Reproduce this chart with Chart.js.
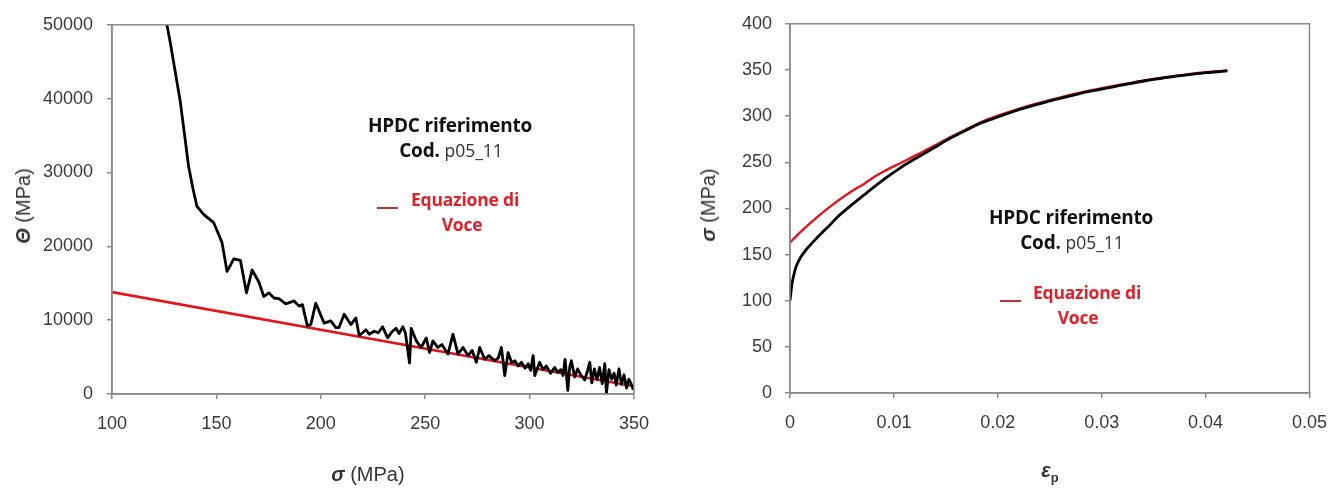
<!DOCTYPE html>
<html>
<head>
<meta charset="utf-8">
<script src="https://cdn.jsdelivr.net/npm/chart.js@4/dist/chart.umd.min.js"></script>
<style>
  html, body { margin: 0; padding: 0; background: #fff; }
  body { width: 1341px; height: 488px; position: relative; overflow: hidden; }
  canvas { position: absolute; top: 0; }
  #c1 { left: 0; }
  #c2 { left: 670px; }
  .t { position: absolute; white-space: nowrap; line-height: 1; transform: translate(-50%, -50%); }
  .ann { font-family: "Open Sans", "Lato", sans-serif; font-weight: 700; font-size: 19px; color: #111; letter-spacing: -0.2px; }
  .ann .n { font-weight: 400; font-size: 17.5px; color: #333; letter-spacing: 0; }
  .red { color: #e2202a; font-family: "Open Sans", "Lato", sans-serif; font-weight: 700; font-size: 17.5px; letter-spacing: -0.2px; }
  .dash { position: absolute; width: 21px; height: 0; border-top: 2px solid #c0303a; }
  .ax { font-family: "Liberation Sans", Arial, sans-serif; font-size: 20px; color: #333; }
  .ax b { font-style: italic; font-weight: 700; }
  .rot { transform: translate(-50%, -50%) rotate(-90deg); }
</style>
</head>
<body>
<canvas id="c1" width="670" height="488"></canvas>
<canvas id="c2" width="671" height="488"></canvas>

<div class="t ax rot" style="left:23px; top:206px;"><b>&Theta;</b> (MPa)</div>
<div class="t ax" style="left:368px; top:474px;"><b>&sigma;</b> (MPa)</div>
<div class="t ax rot" style="left:708px; top:205px;"><b>&sigma;</b> (MPa)</div>
<div class="t ax" style="left:1050px; top:472px;"><b>&epsilon;<sub style="font-size:13px; font-style:normal;">p</sub></b></div>

<div class="t ann" style="left:450px; top:125px;">HPDC riferimento</div>
<div class="t ann" style="left:451px; top:150px;">Cod. <span class="n">p05_11</span></div>
<div class="dash" style="left:377px; top:207px;"></div>
<div class="t red" style="left:465px; top:200px;">Equazione di</div>
<div class="t red" style="left:462px; top:225px;">Voce</div>

<div class="t ann" style="left:1071px; top:217px;">HPDC riferimento</div>
<div class="t ann" style="left:1072px; top:242px;">Cod. <span class="n">p05_11</span></div>
<div class="dash" style="left:1000px; top:300px;"></div>
<div class="t red" style="left:1087px; top:293px;">Equazione di</div>
<div class="t red" style="left:1078px; top:318px;">Voce</div>

<script>
// ---- Left chart: work-hardening rate Theta vs true stress sigma ----
const sigmaL = [126.3,127.9,130.3,132.7,134.8,136.7,138.7,140.7,144.0,148.7,150.8,152.7,155.1,157.0,158.3,161.5,164.4,167.1,170.3,172.7,
  175.1,177.6,180.0,183.2,187.2,189.6,191.2,193.6,195.2,197.6,201.6,204.8,207.2,208.7,211.2,214.4,216.8,218.4,220.0,221.6,
  223.2,225.6,227.5,229.6,232.0,234.0,236.0,237.5,239.3,240.5,242.5,243.3,245.7,248.1,250.5,252.1,253.7,256.0,258.0,260.9,
  263.3,265.7,268.1,270.5,272.5,274.5,276.1,278.5,280.5,283.3,285.0,286.5,288.1,289.7,291.5,292.9,294.5,296.1,297.8,299.3,
  300.5,301.7,302.5,304.8,306.5,308.0,310.0,312.0,313.5,315.0,316.0,317.0,318.3,319.2,320.0,321.6,323.0,324.5,326.4,327.8,
  328.8,329.8,331.0,332.3,333.5,334.8,336.0,336.8,338.0,339.3,340.5,341.5,342.8,344.0,345.2,346.4,347.5,348.6,349.5,350.0];
const thetaL = [50000,47600,43600,39600,35000,30800,27900,25400,24300,23200,21800,20500,16600,17600,18300,18100,13700,16800,15200,13200,
  13700,13000,12900,12200,12600,11900,12100,9200,9400,12300,9600,9900,9000,9000,10800,9400,10300,7900,8300,8700,
  8100,8500,8300,9100,7600,8400,8900,8200,9100,8300,4200,8900,7200,6300,7600,5600,7200,6300,6700,5400,
  8100,5400,6300,5200,5900,4300,6300,4700,5200,4500,4900,6300,2500,5600,4200,4500,3800,4300,3500,4100,
  3200,5200,2500,4300,3300,3800,2800,3600,2900,3300,2500,4700,500,3600,4500,2300,3400,2600,1900,3200,
  4300,1500,3400,2000,3600,1400,4100,100,3300,2000,2800,1200,3400,1300,2600,800,2000,1400,700,1000];
const voceSigmaL = [100, 350];
const voceThetaL = [13800, 1050];
const xTicksL = [100, 150, 200, 250, 300, 350];
const yTicksL = [0, 10000, 20000, 30000, 40000, 50000];

// ---- Right chart: true stress sigma vs plastic strain eps_p ----
const epsB = [0,0.0001,0.0002,0.00035,0.0005,0.0007,0.001,0.0013,0.0016,0.0020,0.0025,0.0031,0.0037,0.0046,0.0059,0.0075,0.0091,0.0107,0.0123,0.0139,
  0.0155,0.0170,0.0185,0.0200,0.0215,0.0231,0.0247,0.0263,0.0278,0.0294,0.0310,0.0326,0.0342,0.0358,0.0374,0.0390,0.0406,0.0421];
const sigmaB = [100,110,119,127,134,140,146.5,151.5,156,161,167,174,180.4,191,203.5,218,232,244.5,255.5,266,
  276.5,285,293,299,305,310.5,315.5,320,324.2,328,331.5,335,338.3,341,343.6,345.8,347.5,349];
const epsV = [0,0.0011,0.0027,0.0043,0.0059,0.0072,0.0081,0.0091,0.0107,0.0123,0.0139,0.0155,0.0170,0.0185,0.0200,0.0215,0.0231,
  0.0247,0.0263,0.0278,0.0294,0.0310,0.0326,0.0342,0.0358,0.0374,0.0390,0.0406,0.0421];
const sigmaV = [163,175.4,191.4,205.7,218.3,227.1,234,240.5,249.5,258.5,268,277.5,286,294,300.5,306,311.5,
  316.5,321,325,328.8,332.3,335.6,338.8,341.6,344,346.2,348,349.5];
const xTicksR = [0, 0.01, 0.02, 0.03, 0.04, 0.05];
const yTicksR = [0, 50, 100, 150, 200, 250, 300, 350, 400];

const zip = (xs, ys) => xs.map((x, i) => ({ x, y: ys[i] }));

const AXIS = '#8a8a8a';
const TICKFONT = { family: '"Liberation Sans", Arial, sans-serif', size: 18 };
const TICKCOLOR = '#3a3a3a';

const boxPlugin = {
  id: 'box',
  afterDraw(chart) {
    const { ctx, chartArea: a } = chart;
    ctx.save();
    ctx.strokeStyle = AXIS;
    ctx.lineWidth = 1.5;
    ctx.strokeRect(a.left, a.top, a.right - a.left, a.bottom - a.top);
    ctx.restore();
  }
};

function makeChart(id, datasets, xr, yr, xTicks, yTicks, pad, yWidth, xHeight, yPad, xFmt) {
  return new Chart(document.getElementById(id), {
    type: 'line',
    data: { datasets },
    options: {
      responsive: false,
      animation: false,
      layout: { padding: pad },
      plugins: { legend: { display: false }, tooltip: { enabled: false } },
      elements: { point: { radius: 0 }, line: { tension: 0, borderJoinStyle: 'round' } },
      scales: {
        x: {
          type: 'linear', min: xr[0], max: xr[1],
          afterFit: s => { s.height = xHeight; },
          afterBuildTicks: s => { s.ticks = xTicks.map(v => ({ value: v })); },
          ticks: { font: TICKFONT, color: TICKCOLOR, padding: 14, maxRotation: 0, callback: xFmt },
          grid: { drawOnChartArea: false, drawTicks: true, tickLength: 5, color: AXIS, lineWidth: 1.5 },
          border: { display: true, color: AXIS, width: 1.5 }
        },
        y: {
          type: 'linear', min: yr[0], max: yr[1],
          afterFit: s => { s.width = yWidth; },
          afterBuildTicks: s => { s.ticks = yTicks.map(v => ({ value: v })); },
          ticks: { font: TICKFONT, color: TICKCOLOR, padding: yPad, callback: v => String(v) },
          grid: { drawOnChartArea: false, drawTicks: true, tickLength: 5, color: AXIS, lineWidth: 1.5 },
          border: { display: true, color: AXIS, width: 1.5 }
        }
      }
    },
    plugins: [boxPlugin]
  });
}

makeChart('c1', [
  { data: zip(sigmaL, thetaL), borderColor: '#000', borderWidth: 2.8, fill: false },
  { data: zip(voceSigmaL, voceThetaL), borderColor: '#e2141c', borderWidth: 2.6, fill: false }
], [100, 350], [0, 50000], xTicksL, yTicksL, { left: 0, right: 36, top: 19, bottom: 0 }, 112, 94, 14, v => String(v));

makeChart('c2', [
  { data: zip(epsB, sigmaB), borderColor: '#000', borderWidth: 2.8, fill: false, cubicInterpolationMode: 'monotone' },
  { data: zip(epsV, sigmaV), borderColor: '#e2141c', borderWidth: 2.4, fill: false, cubicInterpolationMode: 'monotone' }
], [0, 0.05], [0, 400], xTicksR, yTicksR, { left: 0, right: 30, top: 17, bottom: 0 }, 120, 95, 13, v => (v === 0 ? '0' : String(Math.round(v * 100) / 100)));
</script>
</body>
</html>
